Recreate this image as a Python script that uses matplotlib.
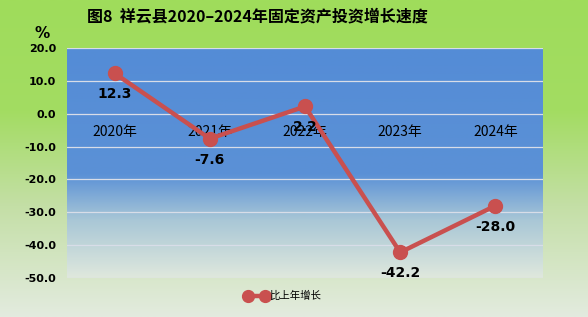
import numpy as np
import matplotlib.pyplot as plt
from matplotlib.colors import LinearSegmentedColormap

plt.rcParams['font.family'] = ['Noto Sans CJK SC', 'DejaVu Sans']

# 数据
years = ['2020年', '2021年', '2022年', '2023年', '2024年']
growth = [12.3, -7.6, 2.2, -42.2, -28.0]
value_labels = ['12.3', '-7.6', '2.2', '-42.2', '-28.0']
y_ticks = [20, 10, 0, -10, -20, -30, -40, -50]

W, H = 588, 317
fig = plt.figure(figsize=(W / 100, H / 100), dpi=100)

# 背景渐变（绿 -> 浅灰绿）
bg = fig.add_axes([0, 0, 1, 1], zorder=-10)
bg_cmap = LinearSegmentedColormap.from_list(
    'bg', [(0, '#e3ebdf'), (0.35, '#c4dfa6'), (0.65, '#a3dc62'), (1, '#9fdd5b')])
grad = np.linspace(0, 1, 256).reshape(-1, 1)
bg.imshow(grad, aspect='auto', cmap=bg_cmap, origin='lower', extent=[0, 1, 0, 1])
bg.set_axis_off()
for s in bg.spines.values():
    s.set_visible(False)

ax = fig.add_axes([67 / W, (H - 278) / H, 476 / W, 230 / H])
ax_cmap = LinearSegmentedColormap.from_list(
    'plot', [(0, '#dfe8dd'), (0.25, '#a9c7d6'), (0.45, '#5b91d6'), (1, '#548cd6')])
ax.imshow(grad, aspect='auto', cmap=ax_cmap, origin='lower',
          extent=[0, 1, 0, 1], transform=ax.transAxes, zorder=0)

x = np.arange(len(years))
ax.set_xlim(-0.5, len(years) - 0.5)
ax.set_ylim(-50, 20)
ax.set_yticks(y_ticks)
ax.set_yticklabels([f'{v:.1f}' for v in y_ticks], fontsize=8, fontweight='bold',
                   family=['DejaVu Sans'])
ax.yaxis.grid(True, color='#d8dde8', linewidth=0.9, zorder=1)
ax.set_axisbelow(True)
ax.tick_params(axis='y', length=0, pad=8)

ax.spines['bottom'].set_position(('data', 0))
for name in ['top', 'right', 'left', 'bottom']:
    ax.spines[name].set_visible(False)
ax.set_xticks(x)
ax.set_xticklabels(years, fontsize=10)
ax.tick_params(axis='x', length=0, pad=8)

ax.plot(x, growth, color='#c9504f', linewidth=3.2, marker='o', markersize=10,
        label='比上年增长', zorder=3)

for xi, yi, lab in zip(x, growth, value_labels):
    ax.annotate(lab, (xi, yi), xytext=(0, -21), textcoords='offset pixels',
                ha='center', va='center', fontsize=10, fontweight='bold',
                color='black', family=['DejaVu Sans'], zorder=4)

fig.text(257 / W, 1 - 16 / H, '图8  祥云县2020–2024年固定资产投资增长速度',
         ha='center', va='center', fontsize=11.5, fontweight='bold')
fig.text(42 / W, 1 - 33 / H, '%', ha='center', va='center', fontsize=11,
         fontweight='bold', family=['DejaVu Sans'])

fig.legend(loc='center', bbox_to_anchor=(283 / W, 1 - 296 / H), frameon=False,
           fontsize=7.5, numpoints=2, handlelength=2.2, handletextpad=0.1,
           markerscale=0.85)

fig.savefig('out.png', dpi=100)
